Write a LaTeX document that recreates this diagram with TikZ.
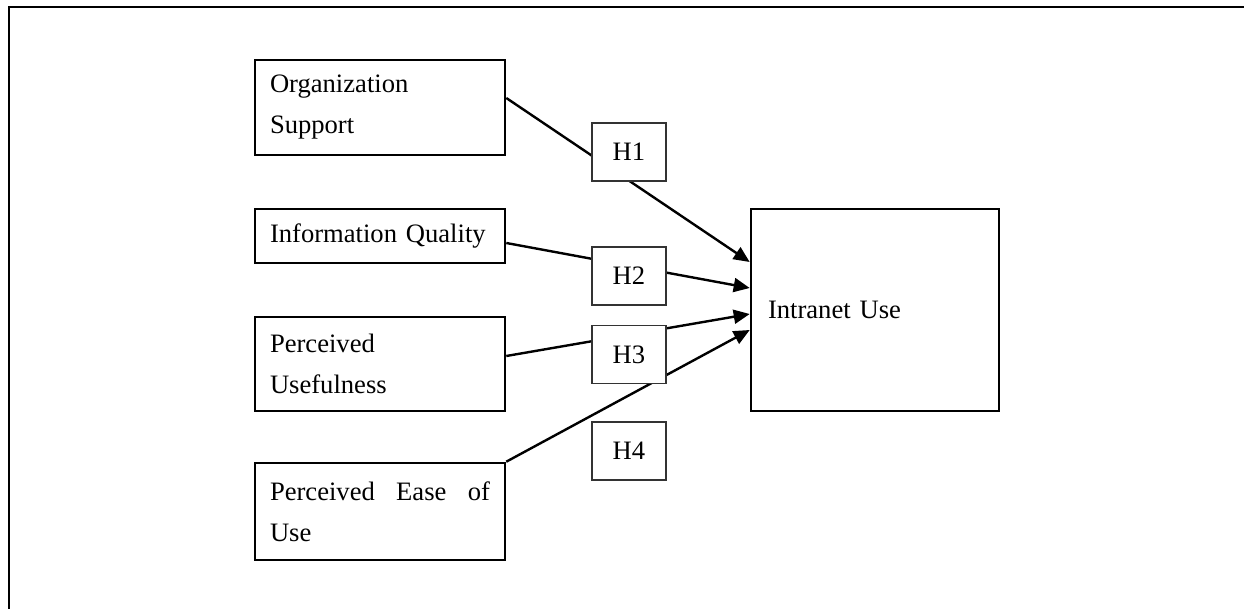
\documentclass[tikz,border=0pt]{standalone}
\usepackage{fontspec}
\setmainfont{Liberation Serif}
\usetikzlibrary{arrows.meta}

\begin{document}
\begin{tikzpicture}[x=0.5pt, y=-0.5pt,
		factor/.style={draw, line width=1.3pt, minimum width=125pt, text width=110pt,
				inner xsep=7.5pt, inner ysep=0pt, align=left,
				font=\fontsize{13.3}{20.5}\selectfont},
		hyp/.style={draw=black!80, fill=white, line width=0.7pt, minimum width=37pt,
				minimum height=29pt, font=\fontsize{13.3}{16}\selectfont},
		link/.style={line width=1.2pt, -{Triangle[length=8pt, width=7pt]}}]
		\useasboundingbox (0,0) rectangle (1244,609);

		% Frame
		\draw[line width=1.3pt] (9,609) -- (9,7) -- (1244,7);

		% Nodes
		\node (org) [factor, minimum height=47.5pt] at (380,107.5) {Organization\\Support};
		\node (info) [factor, minimum height=27pt] at (380,236) {Information Quality};
		\node (useful) [factor, minimum height=47pt] at (380,364) {Perceived\\Usefulness};
		\node (ease) [factor, minimum height=48.5pt] at (380,511.5) {Perceived\hfill Ease\hfill of\\Use};
		\node (intranet) [factor, minimum width=124pt, text width=107pt, inner xsep=8.5pt,
			minimum height=101pt] at (875,310) {Intranet Use};

		% Arrows
		\draw[link] ([yshift=4.75pt]org.east) -- ([yshift=24pt]intranet.west);
		\draw[link] ([yshift=-3.5pt]info.east) -- ([yshift=11pt]intranet.west);
		\draw[link] ([yshift=4pt]useful.east) -- ([yshift=-2pt]intranet.west);
		\draw[link] (ease.north east) -- ([yshift=-10pt]intranet.west);

		% Hypotheses
		\node (h1) [hyp] at (629,152) {H1};
		\node (h2) [hyp] at (629,276) {H2};
		\node (h3) [hyp] at (629,354.5) {H3};
		\node (h4) [hyp] at (629,451) {H4};
	\end{tikzpicture}
\end{document}
